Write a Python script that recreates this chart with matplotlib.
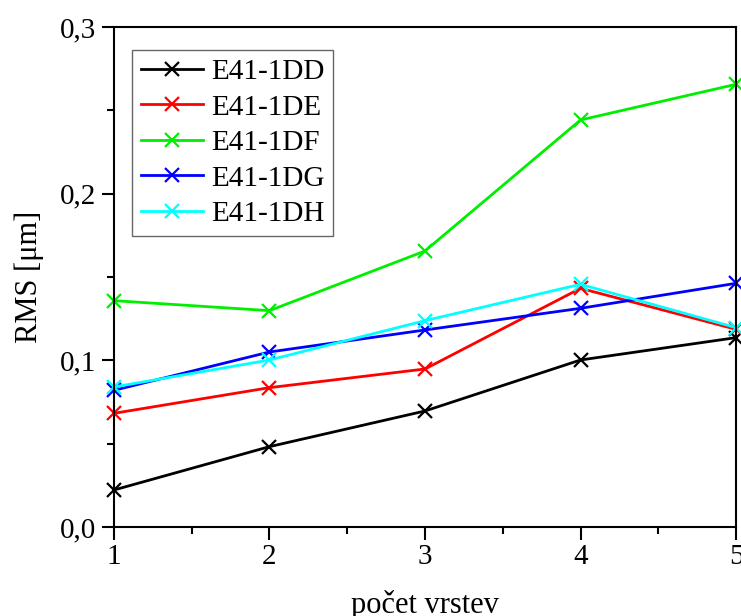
import matplotlib
matplotlib.use('Agg')
import matplotlib.pyplot as plt
from matplotlib.ticker import MultipleLocator, FuncFormatter

# data
vrstvy = [1, 2, 3, 4, 5]
dd = [0.0222, 0.0482, 0.0696, 0.1002, 0.1136]
de = [0.0682, 0.0836, 0.0948, 0.1432, 0.1186]
df = [0.1358, 0.1298, 0.1656, 0.2442, 0.2656]
dg = [0.0820, 0.1050, 0.1182, 0.1312, 0.1462]
dh = [0.0840, 0.1002, 0.1238, 0.1456, 0.1196]
nazvy = ['E41-1DD', 'E41-1DE', 'E41-1DF', 'E41-1DG', 'E41-1DH']
barvy = ['#000000', '#ff0000', '#00ee00', '#0000ff', '#00ffff']

plt.rcParams['font.family'] = ['Liberation Serif', 'DejaVu Serif']

fig = plt.figure(figsize=(7.41, 6.16), dpi=100)
ax = fig.add_axes([0.1538, 0.1445, 0.8395, 0.8117])

for serie, nazev, barva in zip([dd, de, df, dg, dh], nazvy, barvy):
    ax.plot(vrstvy, serie, marker='x', color=barva, lw=2, ms=10, mew=1.6,
            label=nazev, clip_on=False)

ax.set_xlim(1, 5)
ax.set_ylim(0, 0.3)
ax.xaxis.set_major_locator(MultipleLocator(1))
ax.xaxis.set_minor_locator(MultipleLocator(0.5))
ax.yaxis.set_major_locator(MultipleLocator(0.1))
ax.yaxis.set_minor_locator(MultipleLocator(0.05))
ax.yaxis.set_major_formatter(FuncFormatter(lambda v, p: f'{v:.1f}'.replace('.', ',')))

ax.tick_params(which='both', direction='out', top=False, right=False, width=1.5,
               labelsize=21)
ax.tick_params(which='major', length=9)
ax.tick_params(which='minor', length=5)
for s in ax.spines.values():
    s.set_linewidth(1.5)

ax.set_xlabel('počet vrstev', fontsize=22, labelpad=14)
ax.set_ylabel('RMS [μm]', fontsize=22, labelpad=12)

leg = ax.legend(loc='upper left', bbox_to_anchor=(0.029, 0.954), borderaxespad=0,
                fontsize=21, fancybox=False, framealpha=1, edgecolor='#666666',
                handlelength=2.15, handletextpad=0.25, labelspacing=0.31,
                borderpad=0.3)
leg.get_frame().set_linewidth(1.0)

fig.savefig('out.png', dpi=100)
